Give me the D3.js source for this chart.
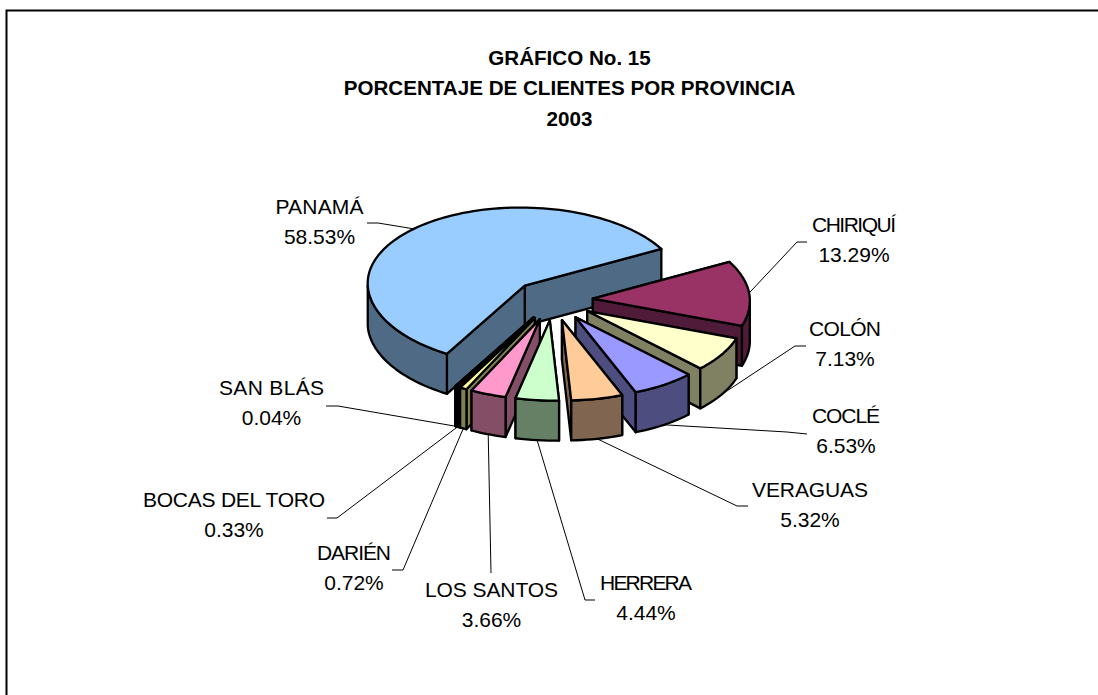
<!DOCTYPE html>
<html><head><meta charset="utf-8">
<script src="https://cdn.jsdelivr.net/npm/d3@7/dist/d3.min.js"></script>
<style>html,body{margin:0;padding:0;background:#fff}svg{display:block}text{font-family:"Liberation Sans",Arial,sans-serif;fill:#000}</style>
</head><body><svg id="c" width="1098" height="695"></svg>
<script>
const titleLines = ["GRÁFICO No. 15","PORCENTAJE DE CLIENTES POR PROVINCIA","2003"];
const provinces = ["CHIRIQUÍ","COLÓN","COCLÉ","VERAGUAS","HERRERA","LOS SANTOS","DARIÉN","BOCAS DEL TORO","SAN BLÁS","PANAMÁ"];
const percents = [13.29,7.13,6.53,5.32,4.44,3.66,0.72,0.33,0.04,58.53];
const topColors = ["#993366","#FFFFCC","#9999FF","#FFCC99","#CCFFCC","#FF99CC","#FFFF99","#990000","#000000","#99CCFF"];
const sideColors = ["#4F1B38","#808062","#4D4D80","#806650","#668066","#844F66","#808050","#000000","#000000","#4F6A85"];
const labelCenterX = [854,845,846,810,646,491.5,354,234,271.5,319.5];
const labelTopBaseline = [232,336,423,497,590,597,560,507,395,214];
const labelNameWidth = [84,72,68,116,92,133,74,182,105,88];
const leaderStart = [[807,242],[806,346],[807,434],[748,506],[595,600],[491,573],[392,570],[327,518],[326,406],[367,223]];
const leaderElbow = [[797,242],[795,346],[787,432],[737,506],[585,600],[491,573],[403,570],[337,518],[338,406],[378,223]];

const cx=552, cy=300, rx=157, ry=78, depth=40, explode=40, firstAngle=62*Math.PI/180;
const skew=0.055, nearStretch=0.03;
const svg=d3.select("#c");
svg.append("path").attr("d","M1098,10.5H6.5V695").attr("fill","none").attr("stroke","#000").attr("stroke-width",2);
svg.append("g").selectAll("text").data(titleLines).join("text")
 .attr("x",569.5).attr("y",(d,i)=>[65,95,126][i]).attr("text-anchor","middle")
 .attr("font-size",20.6).attr("font-weight","bold").text(d=>d);

const arcs=d3.pie().sort(null).value(d=>d).startAngle(firstAngle).endAngle(firstAngle+2*Math.PI)(percents);
const slices=arcs.map((a,i)=>{const mid=(a.startAngle+a.endAngle)/2;
 return {i,a:a.startAngle,b:a.endAngle,mid,ox:cx+explode*Math.sin(mid),oy:cy-explode*Math.cos(mid)*ry/rx};});
const project=(x,y,dy)=>[x+1+skew*(y-cy),y+nearStretch*Math.max(0,y-cy)+dy];
const pt=(s,t,dy=0)=>project(s.ox+rx*Math.sin(t),s.oy-ry*Math.cos(t),dy);
const line=d3.line();
const samples=(a,b)=>{const n=Math.max(2,Math.ceil((b-a)/(Math.PI/90)));return d3.range(n+1).map(k=>a+(b-a)*k/n);};
const order=[...slices].sort((p,q)=>pt(p,p.mid)[1]-pt(q,q.mid)[1]);
const g=svg.append("g").attr("stroke","#000").attr("stroke-width",2.3).attr("stroke-linejoin","round");
order.forEach(s=>{
 const side=sideColors[s.i], top=topColors[s.i];
 const apex=project(s.ox,s.oy,0), apexB=project(s.ox,s.oy,depth);
 [s.a,s.b].map(t=>({t,y:pt(s,t)[1]})).sort((u,v)=>u.y-v.y).forEach(w=>{
  g.append("path").attr("fill",side).attr("d",line([apex,pt(s,w.t),pt(s,w.t,depth),apexB])+"Z");
 });
 for(const k of [0,1]){
  const lo=Math.max(s.a,Math.PI/2+k*2*Math.PI), hi=Math.min(s.b,3*Math.PI/2+k*2*Math.PI);
  if(hi>lo){const ts=samples(lo,hi);
   g.append("path").attr("fill",side).attr("d",line([...ts.map(t=>pt(s,t)),...ts.reverse().map(t=>pt(s,t,depth))])+"Z");}
 }
 g.append("path").attr("fill",top).attr("d",line([apex,...samples(s.a,s.b).map(t=>pt(s,t))])+"Z");
});
slices.forEach(s=>{
 const backRim=Math.cos(s.mid)>-0.1;
 const end=pt(s,s.mid,backRim?0:depth);
 svg.append("path").attr("fill","none").attr("stroke","#000").attr("stroke-width",1)
  .attr("d",line([leaderStart[s.i],leaderElbow[s.i],end]));
 svg.append("text").attr("text-anchor","middle").attr("font-size",21)
  .attr("x",labelCenterX[s.i]).attr("y",labelTopBaseline[s.i])
  .attr("textLength",labelNameWidth[s.i]).attr("lengthAdjust","spacing").text(provinces[s.i]);
 svg.append("text").attr("text-anchor","middle").attr("font-size",21)
  .attr("x",labelCenterX[s.i]).attr("y",labelTopBaseline[s.i]+30).text(percents[s.i].toFixed(2)+"%");
});
</script></body></html>
